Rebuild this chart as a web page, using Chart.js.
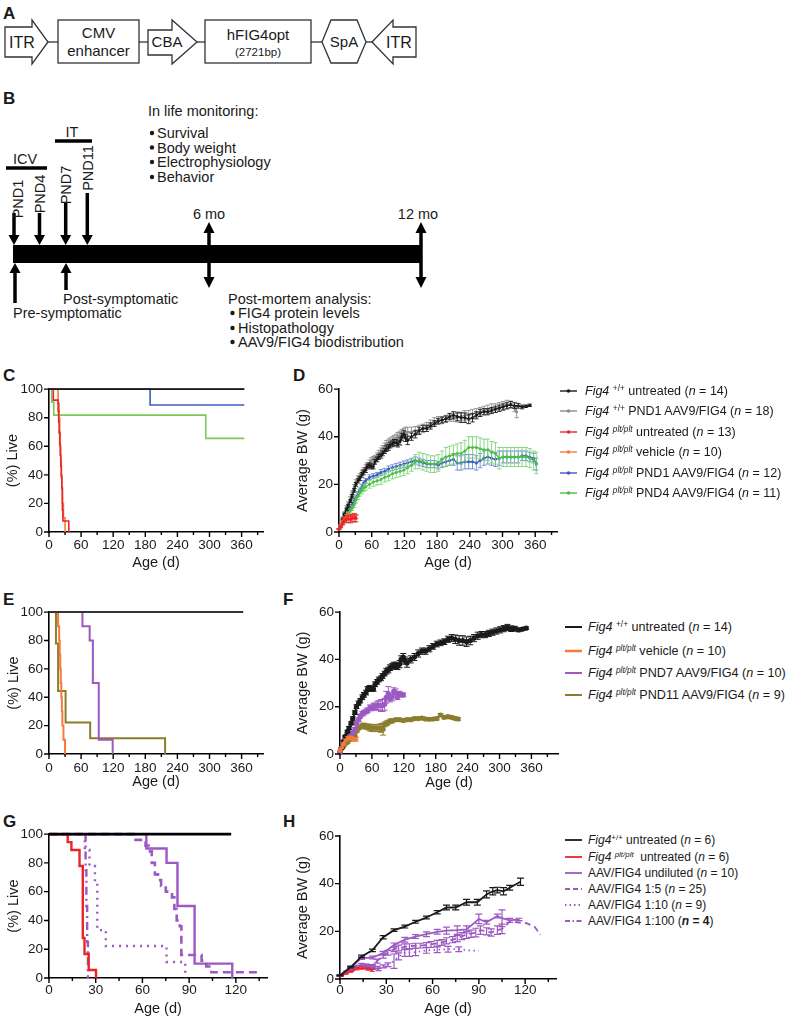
<!DOCTYPE html>
<html><head><meta charset="utf-8">
<script src="https://cdn.jsdelivr.net/npm/chart.js@4.4.1/dist/chart.umd.min.js"></script>
<style>
html,body{margin:0;padding:0;background:#fff;}
#page{position:relative;width:786px;height:1022px;overflow:hidden;font-family:'Liberation Sans',Arial,Helvetica,sans-serif;color:#1a1a1a;}
#page canvas{position:absolute;}
#diag{position:absolute;left:0;top:0;}
.leg{position:absolute;white-space:nowrap;}
.row{position:absolute;left:0;height:16px;line-height:16px;}
.row > svg{position:absolute;left:0;top:0;}
.row > span{position:absolute;top:0;white-space:nowrap;}
.sup{font-size:0.66em;vertical-align:0.5em;line-height:0;}
</style>
</head><body>
<div id="page">
<svg id="diag" width="786" height="1022" font-family="Liberation Sans, Arial, Helvetica, sans-serif" fill="#1a1a1a">
  <g font-weight="bold" font-size="17">
    <text x="3" y="19">A</text><text x="3" y="104">B</text>
    <text x="3" y="381">C</text><text x="293" y="381">D</text>
    <text x="3" y="605">E</text><text x="283" y="605">F</text>
    <text x="3" y="827">G</text><text x="283" y="827">H</text>
  </g>
  <g stroke="#333" stroke-width="1.3" fill="#fff">
    <line x1="48" y1="42" x2="58" y2="42"/><line x1="139" y1="42" x2="148" y2="42"/>
    <line x1="197" y1="42" x2="205" y2="42"/><line x1="311" y1="42" x2="322" y2="42"/>
    <line x1="366" y1="42" x2="372" y2="42"/>
    <polygon points="5,27 32,27 32,20 48,42 32,64 32,57 5,57"/>
    <rect x="58" y="20" width="81" height="43"/>
    <polygon points="148,30 172,30 172,20 197,42 172,64 172,55 148,55"/>
    <rect x="205" y="20" width="106" height="43"/>
    <polygon points="322,42 331,20 357,20 366,42 357,63 331,63"/>
    <polygon points="372,42 393,20 393,27 416,27 416,57 393,57 393,64"/>
  </g>
  <g text-anchor="middle" font-size="15">
    <text x="22" y="48" font-size="16">ITR</text>
    <text x="98.5" y="38">CMV</text><text x="98.5" y="56">enhancer</text>
    <text x="167" y="47">CBA</text>
    <text x="258" y="40">hFIG4opt</text>
    <text x="258" y="56" font-size="11.5">(2721bp)</text>
    <text x="344" y="47">SpA</text>
    <text x="399" y="48" font-size="16">ITR</text>
  </g>
  <rect x="13" y="245" width="408" height="18" fill="#000"/>
  <g stroke="#000" stroke-width="3.5">
    <line x1="6" y1="168" x2="47" y2="168"/><line x1="55" y1="141" x2="92" y2="141"/>
    <line x1="14" y1="213" x2="14" y2="237"/><line x1="39.5" y1="213" x2="39.5" y2="237"/>
    <line x1="65.7" y1="203" x2="65.7" y2="237"/><line x1="87.3" y1="193" x2="87.3" y2="237"/>
    <line x1="15" y1="303" x2="15" y2="271"/><line x1="66" y1="290" x2="66" y2="271"/>
    <line x1="209" y1="231" x2="209" y2="279"/><line x1="421" y1="231" x2="421" y2="279"/>
  </g>
  <g fill="#000">
    <polygon points="8.5,235 19.5,235 14,245"/><polygon points="34,235 45,235 39.5,245"/>
    <polygon points="60.2,235 71.2,235 65.7,245"/><polygon points="81.8,235 92.8,235 87.3,245"/>
    <polygon points="9.5,273 20.5,273 15,263"/><polygon points="60.5,273 71.5,273 66,263"/>
    <polygon points="203.5,233 214.5,233 209,222"/><polygon points="203.5,277 214.5,277 209,288"/>
    <polygon points="415.5,233 426.5,233 421,222"/><polygon points="415.5,277 426.5,277 421,288"/>
  </g>
  <g font-size="14.5">
    <text x="25" y="164" text-anchor="middle">ICV</text>
    <text x="72" y="137" text-anchor="middle">IT</text>
    <text transform="translate(17.5,199) rotate(-90)" text-anchor="middle" dominant-baseline="central">PND1</text>
    <text transform="translate(39.5,194) rotate(-90)" text-anchor="middle" dominant-baseline="central">PND4</text>
    <text transform="translate(66,185) rotate(-90)" text-anchor="middle" dominant-baseline="central">PND7</text>
    <text transform="translate(87.5,168) rotate(-90)" text-anchor="middle" dominant-baseline="central">PND11</text>
    <text x="209" y="219" text-anchor="middle">6 mo</text>
    <text x="418" y="219" text-anchor="middle">12 mo</text>
    <text x="148" y="116">In life monitoring:</text>
    <text x="157" y="138">Survival</text>
    <text x="157" y="152.5">Body weight</text>
    <text x="157" y="167">Electrophysiology</text>
    <text x="157" y="182">Behavior</text>
    <text x="63" y="304">Post-symptomatic</text>
    <text x="13" y="318">Pre-symptomatic</text>
    <text x="228" y="304">Post-mortem analysis:</text>
    <text x="238" y="318">FIG4 protein levels</text>
    <text x="238" y="333">Histopathology</text>
    <text x="238" y="347">AAV9/FIG4 biodistribution</text>
  </g>
  <g fill="#1a1a1a">
    <circle cx="152" cy="133" r="2.2"/><circle cx="152" cy="147.5" r="2.2"/>
    <circle cx="152" cy="162" r="2.2"/><circle cx="152" cy="177" r="2.2"/>
    <circle cx="232.5" cy="313" r="2.2"/><circle cx="232.5" cy="328" r="2.2"/>
    <circle cx="232.5" cy="342" r="2.2"/>
  </g>
</svg>

<canvas id="cC" width="278" height="200" style="left:0;top:375px;width:278px;height:200px"></canvas>
<canvas id="cD" width="282" height="200" style="left:282px;top:375px;width:282px;height:200px"></canvas>
<canvas id="cE" width="278" height="200" style="left:0;top:598px;width:278px;height:200px"></canvas>
<canvas id="cF" width="282" height="200" style="left:282px;top:598px;width:282px;height:200px"></canvas>
<canvas id="cG" width="278" height="200" style="left:0;top:820px;width:278px;height:200px"></canvas>
<canvas id="cH" width="282" height="200" style="left:282px;top:820px;width:282px;height:200px"></canvas>

<div class="leg" style="left:560px;top:0;font-size:12.5px">
  <div class="row" style="top:383px"><svg width="20" height="16"><line x1="0" y1="8" x2="17" y2="8" stroke="#1a1a1a" stroke-width="1.4"/><circle cx="8.5" cy="8" r="1.8" fill="#1a1a1a"/></svg><span style="left:25px"><i>Fig4</i> <span class="sup">+/+</span> untreated (<i>n</i> = 14)</span></div>
  <div class="row" style="top:403px"><svg width="20" height="16"><line x1="0" y1="8" x2="17" y2="8" stroke="#8c8c8c" stroke-width="1.4"/><circle cx="8.5" cy="8" r="1.8" fill="#8c8c8c"/></svg><span style="left:25px"><i>Fig4</i> <span class="sup">+/+</span> PND1 AAV9/FIG4 (<i>n</i> = 18)</span></div>
  <div class="row" style="top:424px"><svg width="20" height="16"><line x1="0" y1="8" x2="17" y2="8" stroke="#e8262a" stroke-width="1.4"/><circle cx="8.5" cy="8" r="1.8" fill="#e8262a"/></svg><span style="left:25px"><i>Fig4</i> <i class="sup">plt/plt</i> untreated (<i>n</i> = 13)</span></div>
  <div class="row" style="top:444px"><svg width="20" height="16"><line x1="0" y1="8" x2="17" y2="8" stroke="#f47b3a" stroke-width="1.4"/><circle cx="8.5" cy="8" r="1.8" fill="#f47b3a"/></svg><span style="left:25px"><i>Fig4</i> <i class="sup">plt/plt</i> vehicle (<i>n</i> = 10)</span></div>
  <div class="row" style="top:465px"><svg width="20" height="16"><line x1="0" y1="8" x2="17" y2="8" stroke="#3d5dbf" stroke-width="1.4"/><circle cx="8.5" cy="8" r="1.8" fill="#3d5dbf"/></svg><span style="left:25px"><i>Fig4</i> <i class="sup">plt/plt</i> PND1 AAV9/FIG4 (<i>n</i> = 12)</span></div>
  <div class="row" style="top:485px"><svg width="20" height="16"><line x1="0" y1="8" x2="17" y2="8" stroke="#4cbf45" stroke-width="1.4"/><circle cx="8.5" cy="8" r="1.8" fill="#4cbf45"/></svg><span style="left:25px"><i>Fig4</i> <i class="sup">plt/plt</i> PND4 AAV9/FIG4 (<i>n</i> = 11)</span></div>
</div>
<div class="leg" style="left:565px;top:0;font-size:12.6px">
  <div class="row" style="top:619px"><svg width="20" height="16"><line x1="0" y1="8" x2="17" y2="8" stroke="#1a1a1a" stroke-width="2"/></svg><span style="left:23px"><i>Fig4</i> <span class="sup">+/+</span> untreated (<i>n</i> = 14)</span></div>
  <div class="row" style="top:643px"><svg width="20" height="16"><line x1="0" y1="8" x2="17" y2="8" stroke="#f47b3a" stroke-width="2.5"/></svg><span style="left:23px"><i>Fig4</i> <i class="sup">plt/plt</i> vehicle (<i>n</i> = 10)</span></div>
  <div class="row" style="top:665px"><svg width="20" height="16"><line x1="0" y1="8" x2="17" y2="8" stroke="#9d59c2" stroke-width="2"/></svg><span style="left:23px"><i>Fig4</i> <i class="sup">plt/plt</i> PND7 AAV9/FIG4 (<i>n</i> = 10)</span></div>
  <div class="row" style="top:687px"><svg width="20" height="16"><line x1="0" y1="8" x2="17" y2="8" stroke="#8c7d2e" stroke-width="2"/></svg><span style="left:23px"><i>Fig4</i> <i class="sup">plt/plt</i> PND11 AAV9/FIG4 (<i>n</i> = 9)</span></div>
</div>
<div class="leg" style="left:565px;top:0;font-size:12px">
  <div class="row" style="top:832px"><svg width="20" height="16"><line x1="0" y1="8" x2="17" y2="8" stroke="#1a1a1a" stroke-width="1.8"/></svg><span style="left:23px"><i>Fig4</i><span class="sup">+/+</span> untreated (<i>n</i> = 6)</span></div>
  <div class="row" style="top:849px"><svg width="20" height="16"><line x1="0" y1="8" x2="17" y2="8" stroke="#e8262a" stroke-width="1.8"/></svg><span style="left:23px"><i>Fig4</i> <i class="sup">plt/plt</i>&nbsp; untreated (<i>n</i> = 6)</span></div>
  <div class="row" style="top:865px"><svg width="20" height="16"><line x1="0" y1="8" x2="17" y2="8" stroke="#9d59c2" stroke-width="1.8"/></svg><span style="left:23px">AAV/FIG4 undiluted (<i>n</i> = 10)</span></div>
  <div class="row" style="top:881px"><svg width="20" height="16"><line x1="0" y1="8" x2="17" y2="8" stroke="#9d59c2" stroke-width="1.8" stroke-dasharray="5,3"/></svg><span style="left:23px">AAV/FIG4 1:5 (<i>n</i> = 25)</span></div>
  <div class="row" style="top:897px"><svg width="20" height="16"><line x1="0" y1="8" x2="17" y2="8" stroke="#9d59c2" stroke-width="1.8" stroke-dasharray="1.5,3"/></svg><span style="left:23px">AAV/FIG4 1:10 (<i>n</i> = 9)</span></div>
  <div class="row" style="top:913px"><svg width="20" height="16"><line x1="0" y1="8" x2="17" y2="8" stroke="#9d59c2" stroke-width="1.8" stroke-dasharray="5,2.5,1.5,2.5"/></svg><span style="left:23px">AAV/FIG4 1:100 (<b><i>n</i> = 4</b>)</span></div>
</div>
</div>

<script>
// ================= DATA =================
const ticksLong = [0, 60, 120, 180, 240, 300, 360];
const minorLong = [30, 90, 150, 210, 270, 330, 390];
const ticksShort = [0, 30, 60, 90, 120];
const minorShort = [15, 45, 75, 105, 135];
const ticksSurv = [0, 20, 40, 60, 80, 100];
const ticksBW = [0, 20, 40, 60];

// --- C: survival (days, % live) ---
const cWtDays = [0, 365], cWtSurv = [100, 100];
const cWtAavDays = [0, 365], cWtAavSurv = [100, 100];
const cPltDays = [0, 8, 17, 18, 19, 20, 21, 22, 23, 24, 25, 26, 37];
const cPltSurv = [100, 92.3, 84.6, 76.9, 69.2, 61.5, 53.8, 46.2, 38.5, 30.8, 15.4, 7.7, 0];
const vehDays = [0, 17, 19, 20, 21, 22, 23, 24, 25, 27, 30];
const vehSurv = [100, 90, 80, 70, 60, 50, 40, 30, 20, 10, 0];
const cPnd1Days = [0, 189, 365], cPnd1Surv = [100, 88.9, 88.9];
const cPnd4Days = [0, 5, 9, 293, 365], cPnd4Surv = [100, 90.9, 81.8, 65.5, 65.5];

// --- E: survival ---
const eWtDays = [0, 363], eWtSurv = [100, 100];
const ePnd7Days = [0, 62.5, 76, 82, 93, 119], ePnd7Surv = [100, 90, 80, 50, 10, 0];
const ePnd11Days = [0, 13, 17, 31, 77, 217], ePnd11Surv = [100, 77.8, 44.4, 22.2, 11.1, 0];

// --- G: survival ---
const gWtDays = [0, 117], gWtSurv = [100, 100];
const gPltDays = [0, 12, 14.4, 19.6, 21.7, 22.8, 25.5, 30.2];
const gPltSurv = [100, 94.4, 88.9, 77.8, 27.8, 16.7, 5.6, 0];
const gUndDays = [0, 62.5, 75.5, 82.5, 93.5, 117.7];
const gUndSurv = [100, 90, 80, 50, 10, 0];
const g5Days = [0, 54.5, 62, 64, 66, 68, 70, 72, 75, 79, 80.5, 82, 84, 85, 98, 101, 104.3, 133.5];
const g5Surv = [100, 96, 92, 88, 80, 72, 68, 64, 60, 56, 48, 40, 36, 16, 12, 8, 4, 4];
const g10Days = [0, 23, 26, 29.5, 31, 36.5, 75.5, 87.5];
const g10Surv = [100, 88.9, 77.8, 66.7, 33.3, 22.2, 11.1, 0];
const g100Days = [0, 23.5, 24, 24.5, 25];
const g100Surv = [100, 75, 50, 25, 0];

// --- D / F: body weight (g), mean and SEM ---
const wtDays = [3,7,10,14,17,21,24,28,31,35,38,42,45,49,52,56,59,63,66,70,73,77,80,84,87,91,94,98,101,105,108,112,115,119,122,126,133,140,147,154,161,168,175,182,189,196,203,210,217,224,231,238,245,252,259,266,273,280,287,294,301,308,315,322,329,336,343,350];
const wtMean = [2.5,5.5,7.5,9.5,11,13,15,17.5,20,21.5,22.5,24,25,26,27.5,28,27.5,27.5,29.5,30.5,31.5,32,33,34,35,35.5,36.5,37,37.5,37.5,37,38,40,41,39.5,38.5,40,41,42.5,43.5,43.5,44.5,45.5,46.5,47,47.5,48.5,49,48.5,48,48,47.5,48,49,50,50.5,50.5,51,51.5,52,52.5,53,53.5,53,53,52.5,52.8,53.2];
const wtErr = [0.2,0.3,0.4,0.5,0.6,0.6,0.7,0.8,0.8,0.9,0.9,1,1,1,1,1,1,1,1,1,1,1,1,1,1.2,1.2,1.2,1.2,1.3,1.3,1.3,1.5,1.5,1.5,1.5,1.8,1.5,1.5,1.5,1.3,1.3,1.3,1.2,1.2,1.2,1.2,1.3,1.5,1.8,2,2,2,1.8,1.5,1.5,1.3,1.3,1.3,1.3,1.3,1.3,1.3,1.3,1.2,1,0.8,0.5,0.5];

const wtAavDays = [3,7,10,14,17,21,24,28,31,35,38,42,45,49,52,56,59,63,66,70,73,77,80,84,87,91,94,98,101,105,108,112,115,119,122,126,133,140,147,154,161,168,175,182,189,196,203,210,217,224,231,238,245,252,259,266,273,280,287,294,301,308,315,322,326];
const wtAavMean = [2.8,6,8,10.5,12,14,16.5,19,21,22.5,23.5,25,26,27,28,29,30,30.5,31,32,33,34,35,36,37,37.5,38,38.5,39,39.5,40,40.5,41,41.5,42,42,42,42.5,43,43.5,44.5,45.5,46.5,47,47,47.5,48,48,48,48.5,49,49,49.5,50,50.5,51,51.5,52,52,52.5,53,53.5,53.5,52.5,50.5];
const wtAavErr = [0.3,0.4,0.5,0.6,0.7,0.8,0.8,0.9,1,1,1,1,1,1.1,1.1,1.2,1.2,1.2,1.2,1.2,1.3,1.3,1.3,1.4,1.4,1.5,1.5,1.5,1.6,1.6,1.8,1.8,2,2,2,2,2,1.8,1.8,1.8,1.5,1.5,1.5,1.5,1.5,1.5,1.5,1.6,1.8,1.8,2,2,2,1.8,1.8,1.8,1.8,1.8,1.8,1.8,1.8,1.8,1.5,2,2.5];

const pltDays = [0,3,7,10,14,17,21,24,28,31];
const pltMean = [1.2,2.3,3.8,4.8,5.2,5.5,5.3,5.8,6,5.8];
const pltErr = [0.2,0.4,0.8,1,1.2,1.5,1.5,1.5,1.8,1.5];

const vehBwDays = [0,3,7,10,14,17,21,24,28,31];
const vehBwMean = [1.3,2.6,4.4,5.7,6.6,6.9,6.7,6.3,6.1,6.2];
const vehBwErr = [0.2,0.3,0.5,0.6,0.7,0.7,0.7,0.7,0.7,0.7];

const pndDays = [3,7,10,14,17,21,24,28,31,35,38,42,45,49,56,63,70,77,84,91,98,105,112,119,126,133,140,147,154,161,168,175,182,189,196,203,210,217,224,231,238,245,252,259,266,273,280,287,294,301,308,315,322,329,336,343,350,357,362];
const pnd1Mean = [2.5,4.5,6,7,8.5,10,11.5,13,14.5,16,17.5,19,20.5,21.5,23,23.5,24,25,25.5,26.5,27,27.5,28,28.5,29,29.5,30,29.5,29,28.5,28.5,28.5,28,29,29.5,30,30.5,29,29,29.5,29.5,29.5,29,30,31,31.5,31,30.5,31,31.5,31.5,31.5,31.5,31.5,32,32,31.5,31,28.5];
const pnd1Err = [0.3,0.5,0.6,0.7,0.8,0.9,1,1,1,1,1,1,1,1,1,1,1,1.2,1.2,1.2,1.2,1.3,1.3,1.3,1.3,1.5,1.5,1.5,1.5,1.5,1.5,1.5,1.5,1.8,2,2,2.5,3,3,3,3,3,3,3,3,3,3,3,3,2.5,2.5,2.5,2.5,2.5,2,2,2,2,2.5];
const pnd4Mean = [2,3.5,5,6.5,8,9,10,11.5,13.5,15,16.5,17.5,18.5,19,20,21,21.5,22,23,23.5,24.5,25,25.5,26,27,28,29.5,30,29.5,29,28.5,28.5,29,30.5,31.5,32,32.5,33,33,34,35.5,35.5,35.5,35,34.5,34.5,33.5,33,31,31.5,31.5,31.5,31.5,31.5,31.5,31.5,31,30,29];
const pnd4Err = [0.3,0.5,0.6,0.8,0.9,1,1,1.2,1.3,1.3,1.4,1.5,1.5,1.5,1.6,1.8,1.8,2,2,2,2.2,2.2,2.3,2.3,2.5,2.5,3,3.5,3.5,3.5,3.5,3.5,3.5,3.5,4,4,4,4,4.5,4.5,4.5,4.5,4.5,4.5,4.5,4.5,4.5,4.5,4.5,4,4,4,4,4,4,4,4,4,4.5];

const pnd7Days = [0,3,7,10,14,17,21,24,28,31,35,38,42,45,49,52,56,59,63,66,70,73,77,80,84,87,91,94,98,101,105,108,112,115,119];
const pnd7Mean = [1,2.5,5,7,8,8.5,8.5,9,10.5,13,14.5,16,17,17.5,18,18.5,19.5,19.5,20,20,20.5,20.5,20.5,20.5,21,24,25.5,23.5,24,26.5,26,24,25.5,25,25];
const pnd7Err = [0.1,0.2,0.4,0.5,0.5,0.5,0.5,0.6,0.7,0.8,0.8,0.9,1,1,1,1,1.2,1.2,1.5,1.5,1.8,2,2.5,2.5,2.5,2.5,3,1.5,1.5,1.5,1.5,1,1,0.8,0.8];

const pnd11Days = [0,4,7,11,14,18,21,25,28,32,35,39,42,46,49,53,56,60,63,67,70,74,77,81,84,88,91,95,98,105,112,119,126,133,140,147,154,161,168,175,182,189,196,203,210,217,222];
const pnd11Mean = [1,2.5,3.5,4.5,5,6,6.5,7,8,10,11,11.5,12,12,11.5,11.5,11,11,11,11,11,11,11,10.5,12.5,13,13.5,14,14,14.5,14.5,14.2,14.5,14.5,15,15,15.2,14.8,14.7,14.8,15,16.5,15.5,15.8,15.5,15,14.8];
const pnd11Err = [0.1,0.2,0.3,0.4,0.5,0.5,0.5,0.6,0.6,0.8,0.8,0.8,1,1,1,1.2,1.2,1.5,1.5,1.5,1.5,1.5,1.8,2.5,1,1,0.8,0.8,0.8,0.6,0.6,0.6,0.6,0.6,0.6,0.6,0.6,0.6,0.6,0.6,0.6,0.6,0.6,0.6,0.6,0.6,0.6];

// --- H: body weight (dose study) ---
const hWtDays = [0,7,14,21,28,35,42,49,56,63,69,75,82,89,95,99,102,106,110,117];
const hWtMean = [1.5,5,9.5,12,17.5,20.5,22,24,25.8,28,30,30,32.2,32.2,35.5,36.8,37.3,36.8,38.3,40.8];
const hWtErr = [0.2,0.3,0.5,0.5,0.7,0.5,0.6,0.6,0.6,0.7,1,1,1.2,1.2,1.5,1.5,1.2,1.5,1,1.5];
const hPltDays = [0,4,7,11,14,18,21];
const hPltMean = [1.3,2.3,3.2,4.3,4.6,4.2,3.7];
const hPltErr = [0.1,0.3,0.4,0.5,0.5,0.5,0.5];
const hUndDays = [0,7,14,21,28,35,42,49,56,63,69,76,82,90,95,102,105,110,116];
const hUndMean = [1.5,5,8.8,9,10.8,14.3,16.5,17.8,18.8,19.8,20.3,20.5,20.8,25.2,23.8,26.4,25.5,24.6,25];
const hUndErr = [0.2,0.4,0.6,0.6,0.8,0.8,1,0.8,1,1,1.5,1.8,1.5,2,0.8,0.8,3.5,0.8,0.5];
const h5Days = [0,7,10,14,17,21,24,28,31,35,38,42,45,49,52,56,59,63,66,69,73,76,79,82,85,88,91,95,98,102,105,110,116,121,126,130];
const h5Mean = [1.3,4,5,6,5.8,5.5,7.5,9.8,11,12.5,13,13.5,13.8,14,14,14.3,14.5,15,15.3,16,16.5,17,18,18.5,19,19.5,20.5,20,19.5,20.5,21,24,23.7,23.4,22,18.5];
const h5Err = [0.1,0.3,0.4,0.5,0.5,0.5,0.8,1,1,1,1.2,1.2,1,1,1,1,1.2,1.2,1.2,1.3,1.3,1.3,1.5,1.5,1.5,1.8,1.8,1.5,1.5,1.8,2,0,0,0,0,0];
const h10Days = [0,7,14,21,24,28,31,35,38,42,45,49,56,63,70,77,84,90];
const h10Mean = [1.3,3.5,5,4.5,4.8,5.3,6,7.5,9.5,11,11,11.3,12,12.3,12.5,12.5,12,11.8];
const h10Err = [0.1,0.3,0.5,0.5,0.5,0.6,0.8,3,1.5,1.5,1.5,1.5,1.2,1.2,1.2,1,0,0];
const h100Days = [0,4,7,10,14,17,21,25];
const h100Mean = [1.3,3,4.3,5.3,6,5.5,5,4];
const h100Err = [0.1,0.3,0.4,0.5,0.6,0.6,0.6,0.5];

// ================= STYLE =================
const COL = {black:'#1a1a1a', gray:'#8c8c8c', red:'#e8262a', orange:'#f47b3a', blue:'#3d5dbf',
             green:'#4cbf45', greenS:'#7cc85a', purple:'#9d59c2', olive:'#8c7d2e'};
Chart.defaults.font.family = "'Liberation Sans', Arial, Helvetica, sans-serif";
Chart.defaults.color = '#1a1a1a';

function pts(days, vals){ return days.map((d,i)=>({x:d, y:vals[i]})); }
function surv(days, vals, color, w, dash){
  return {data: pts(days, vals), borderColor: color, borderWidth: w, borderDash: dash || [],
          stepped: 'before', pointRadius: 0, fill: false, clip: false, tension: 0};
}
function bw(days, vals, errs, color, o){
  return {data: pts(days, vals), errors: errs, borderColor: color, backgroundColor: color,
          borderWidth: o.w, pointRadius: o.r || 0, pointBorderWidth: 0, pointBackgroundColor: color,
          borderDash: o.dash || [], tension: 0, fill: false, clip: false,
          errWidth: o.ew || 1, errCap: o.cap || 3, errColor: o.ec || color};
}

const errPlugin = {
  id: 'errBars',
  beforeDatasetDraw(chart, args){
    const ds = chart.data.datasets[args.index];
    if (!ds.errors) return;
    const xs = chart.scales.x, ys = chart.scales.y, c = chart.ctx;
    c.save(); c.strokeStyle = ds.errColor; c.lineWidth = ds.errWidth; c.setLineDash([]);
    c.beginPath();
    ds.data.forEach((p, i) => {
      const e = ds.errors[i]; if (!e) return;
      const x = xs.getPixelForValue(p.x), y1 = ys.getPixelForValue(p.y + e), y2 = ys.getPixelForValue(p.y - e);
      c.moveTo(x, y1); c.lineTo(x, y2);
      c.moveTo(x - ds.errCap, y1); c.lineTo(x + ds.errCap, y1);
      c.moveTo(x - ds.errCap, y2); c.lineTo(x + ds.errCap, y2);
    });
    c.stroke(); c.restore();
  }
};

function mkChart(id, L, datasets){
  const tickPlugin = {
    id: 'axisTicks_' + id,
    afterDraw(chart){
      const c = chart.ctx, a = chart.chartArea, xs = chart.scales.x, ys = chart.scales.y;
      c.save(); c.strokeStyle = '#000'; c.lineWidth = 1.4; c.beginPath();
      L.xTicks.forEach(v => { const p = xs.getPixelForValue(v); c.moveTo(p, a.bottom); c.lineTo(p, a.bottom + 5); });
      L.xMinor.forEach(v => { const p = xs.getPixelForValue(v); c.moveTo(p, a.bottom); c.lineTo(p, a.bottom + 3); });
      L.yTicks.forEach(v => { const p = ys.getPixelForValue(v); c.moveTo(a.left - 5, p); c.lineTo(a.left, p); });
      c.stroke(); c.restore();
    }
  };
  return new Chart(document.getElementById(id), {
    type: 'line',
    data: {datasets},
    options: {
      responsive: false, animation: false, devicePixelRatio: 1, events: [],
      layout: {padding: {left: 0, right: L.padR, top: L.padT, bottom: 0}},
      plugins: {legend: {display: false}, tooltip: {enabled: false}},
      scales: {
        x: {type: 'linear', min: 0, max: L.xMax,
            afterFit: s => { s.height = L.xH; },
            afterBuildTicks: s => { s.ticks = L.xTicks.map(v => ({value: v})); },
            grid: {display: false, drawTicks: false},
            border: {display: true, color: '#000', width: 1.6},
            ticks: {padding: L.xTickPad, font: {size: 13.5}, color: '#1a1a1a', maxRotation: 0, autoSkip: false, callback: v => String(v)},
            title: {display: true, text: 'Age (d)', font: {size: 14.5}, color: '#1a1a1a', padding: {top: 0, bottom: L.xTitlePB}}},
        y: {type: 'linear', min: 0, max: L.yMax,
            afterFit: s => { s.width = L.yW; },
            afterBuildTicks: s => { s.ticks = L.yTicks.map(v => ({value: v})); },
            grid: {display: false, drawTicks: false},
            border: {display: true, color: '#000', width: 1.6},
            ticks: {padding: L.yTickPad, font: {size: 13.5}, color: '#1a1a1a', callback: v => String(v)},
            title: {display: true, text: L.yTitle, font: {size: 14.5}, color: '#1a1a1a', padding: {top: L.yTitlePT, bottom: 0}}}
      }
    },
    plugins: [tickPlugin, errPlugin]
  });
}

// ================= CHARTS =================
mkChart('cC', {xMax: 400, yMax: 100, padR: 15, padT: 13, yW: 49, xH: 43, xTickPad: 5, xTitlePB: 3.3, yTickPad: 6, yTitlePT: 4.6,
  yTitle: '(%) Live', xTicks: ticksLong, xMinor: minorLong, yTicks: ticksSurv}, [
  surv(cWtDays, cWtSurv, COL.black, 1.6),
  surv(cPltDays, cPltSurv, COL.red, 1.6),
  surv(vehDays, vehSurv, COL.orange, 1.6),
  surv(cPnd1Days, cPnd1Surv, COL.blue, 1.6),
  surv(cPnd4Days, cPnd4Surv, COL.greenS, 1.6),
  surv(cWtAavDays, cWtAavSurv, COL.gray, 1.6)
]);

mkChart('cD', {xMax: 400, yMax: 60, padR: 7, padT: 12, yW: 57, xH: 43, xTickPad: 5, xTitlePB: 3.6, yTickPad: 6, yTitlePT: 12.3,
  yTitle: 'Average BW (g)', xTicks: ticksLong, xMinor: minorLong, yTicks: ticksBW}, [
  bw(pltDays, pltMean, pltErr, COL.red, {w: 1.3, r: 1.5, cap: 2.5, ew: 0.9}),
  bw(vehBwDays, vehBwMean, vehBwErr, COL.orange, {w: 1.3, r: 1.5, cap: 2.5, ew: 0.9}),
  bw(wtDays, wtMean, wtErr, COL.black, {w: 1.3, r: 1.5, cap: 2.2, ew: 0.9}),
  bw(pndDays, pnd4Mean, pnd4Err, COL.green, {w: 1.3, r: 1.5, cap: 2.2, ew: 0.8, ec: '#6fd06a'}),
  bw(pndDays, pnd1Mean, pnd1Err, COL.blue, {w: 1.3, r: 1.5, cap: 2.2, ew: 0.8, ec: '#5a78cf'}),
  bw(wtAavDays, wtAavMean, wtAavErr, COL.gray, {w: 1.3, r: 1.5, cap: 2.2, ew: 0.9})
]);

mkChart('cE', {xMax: 400, yMax: 100, padR: 15, padT: 14, yW: 49, xH: 44, xTickPad: 6.2, xTitlePB: 6.9, yTickPad: 6, yTitlePT: 4.9,
  yTitle: '(%) Live', xTicks: ticksLong, xMinor: minorLong, yTicks: ticksSurv}, [
  surv(eWtDays, eWtSurv, '#333', 2),
  surv(vehDays, vehSurv, COL.orange, 2),
  surv(ePnd7Days, ePnd7Surv, COL.purple, 2),
  surv(ePnd11Days, ePnd11Surv, COL.olive, 2)
]);

mkChart('cF', {xMax: 410, yMax: 60, padR: 6, padT: 13, yW: 58, xH: 44, xTickPad: 6, xTitlePB: 6.6, yTickPad: 6, yTitlePT: 12.3,
  yTitle: 'Average BW (g)', xTicks: ticksLong, xMinor: minorLong, yTicks: ticksBW}, [
  bw(vehBwDays, vehBwMean, vehBwErr, COL.orange, {w: 2.8, r: 1.6, cap: 2.5}),
  bw(wtDays, wtMean, wtErr, COL.black, {w: 1.8, r: 2.6, cap: 3}),
  bw(pnd7Days, pnd7Mean, pnd7Err, COL.purple, {w: 1.8, r: 2.6, cap: 3}),
  bw(pnd11Days, pnd11Mean, pnd11Err, COL.olive, {w: 1.8, r: 2.6, cap: 3})
]);

mkChart('cG', {xMax: 140, yMax: 100, padR: 11, padT: 14, yW: 49, xH: 42, xTickPad: 3.9, xTitlePB: 2.6, yTickPad: 6, yTitlePT: 4.9,
  yTitle: '(%) Live', xTicks: ticksShort, xMinor: minorShort, yTicks: ticksSurv}, [
  surv(gWtDays, gWtSurv, '#000', 2.6),
  surv(gPltDays, gPltSurv, COL.red, 2.4),
  surv(gUndDays, gUndSurv, COL.purple, 2.4),
  surv(g5Days, g5Surv, COL.purple, 2.6, [8, 5]),
  surv(g10Days, g10Surv, COL.purple, 2.4, [2, 5]),
  surv(g100Days, g100Surv, COL.purple, 2.4, [8, 4, 2, 4])
]);

mkChart('cH', {xMax: 140, yMax: 60, padR: 8, padT: 16, yW: 58, xH: 41, xTickPad: 2.9, xTitlePB: 2.3, yTickPad: 6, yTitlePT: 12.6,
  yTitle: 'Average BW (g)', xTicks: ticksShort, xMinor: minorShort, yTicks: ticksBW}, [
  bw(hWtDays, hWtMean, hWtErr, COL.black, {w: 1.8, r: 0, cap: 3.5, ew: 1.2}),
  bw(hPltDays, hPltMean, hPltErr, COL.red, {w: 1.8, r: 0, cap: 2.5}),
  bw(hUndDays, hUndMean, hUndErr, COL.purple, {w: 1.8, r: 0, cap: 3.5, ew: 1.2}),
  bw(h5Days, h5Mean, h5Err, COL.purple, {w: 1.8, r: 0, cap: 3.5, ew: 1.2, dash: [6, 4]}),
  bw(h10Days, h10Mean, h10Err, COL.purple, {w: 1.8, r: 0, cap: 3.5, ew: 1.2, dash: [1.5, 3.5]}),
  bw(h100Days, h100Mean, h100Err, COL.purple, {w: 1.8, r: 0, cap: 3, ew: 1.2, dash: [6, 3, 1.5, 3]})
]);
</script>
</body></html>
